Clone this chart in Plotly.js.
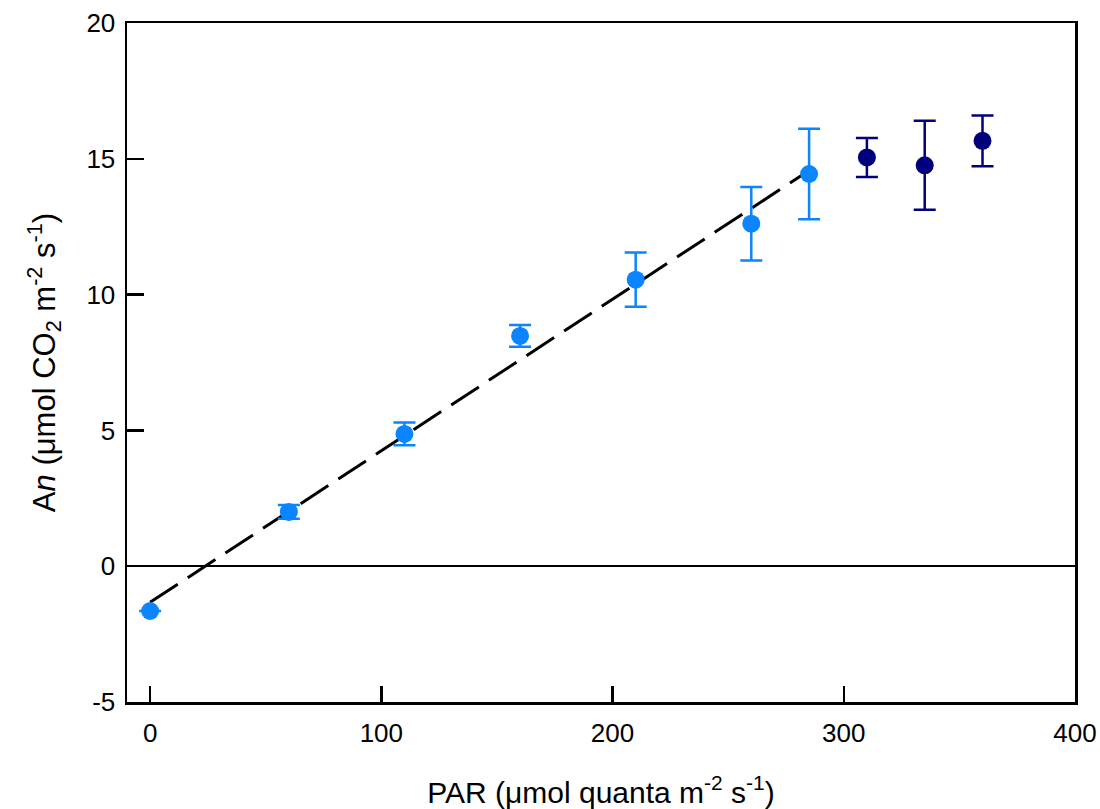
<!DOCTYPE html>
<html>
<head>
<meta charset="utf-8">
<script src="https://cdn.plot.ly/plotly-3.0.1.min.js"></script>
<style>html,body{margin:0;padding:0;background:#fff;}#chart{width:1100px;height:809px;}</style>
</head>
<body>
<div id="chart"></div>
<script>
// Linear-phase measurements (light blue)
const parLinear = [0, 60, 110, 160, 210, 260, 285];
const anLinear = [-1.65, 2.0, 4.87, 8.48, 10.55, 12.61, 14.44];
const errLinear = [0, 0.25, 0.42, 0.4, 1.0, 1.35, 1.67];

// Saturation-phase measurements (dark blue)
const parSat = [310, 335, 360];
const anSat = [15.05, 14.76, 15.66];
const errSat = [0.72, 1.64, 0.93];

// Linear regression fit line (endpoints)
const fitPar = [0, 285];
const fitAn = [-1.33, 14.57];

const xTicks = [0, 100, 200, 300, 400];
const yTicks = [-5, 0, 5, 10, 15, 20];
const yTickText = ["-5", "0", "5", "10", "15", "20"];

const FONT = "Liberation Sans, Arial, sans-serif";

const traces = [
  {
    x: fitPar, y: fitAn, type: "scatter", mode: "lines",
    line: {color: "#000000", width: 3, dash: "33px,12px"},
    hoverinfo: "skip", showlegend: false
  },
  {
    x: parLinear, y: anLinear, type: "scatter", mode: "markers",
    marker: {color: "#0A84FF", size: 18},
    error_y: {type: "data", array: errLinear, visible: true, color: "#0A84FF", thickness: 2.5, width: 11},
    showlegend: false
  },
  {
    x: parSat, y: anSat, type: "scatter", mode: "markers",
    marker: {color: "#00007F", size: 18},
    error_y: {type: "data", array: errSat, visible: true, color: "#00007F", thickness: 2.5, width: 11},
    showlegend: false
  }
];

const layout = {
  width: 1100, height: 809,
  margin: {l: 127, r: 25, t: 23, b: 107},
  paper_bgcolor: "#ffffff", plot_bgcolor: "#ffffff",
  font: {family: FONT, color: "#000000", size: 26},
  showlegend: false,
  xaxis: {
    range: [-10, 400],
    tickvals: xTicks,
    ticks: "inside", ticklen: 16, tickwidth: 2.5, tickcolor: "#000",
    showline: true, linewidth: 2.5, linecolor: "#000", mirror: true,
    showgrid: false, zeroline: false,
    tickfont: {family: FONT, size: 26},
    ticklabelstandoff: 6,
    title: {text: "PAR (μmol quanta m<sup>-2</sup> s<sup>-1</sup>)", font: {family: FONT, size: 30}, standoff: 36}
  },
  yaxis: {
    range: [-5, 20],
    tickvals: yTicks, ticktext: yTickText,
    ticks: "inside", ticklen: 17, tickwidth: 2.5, tickcolor: "#000",
    showline: true, linewidth: 2.5, linecolor: "#000", mirror: true,
    showgrid: false, zeroline: true, zerolinecolor: "#000", zerolinewidth: 2,
    tickfont: {family: FONT, size: 26},
    ticklabelstandoff: 4,
    title: {text: "A<i>n</i> (μmol CO<sub>2</sub> m<sup>-2</sup> s<sup>-1</sup>)", font: {family: FONT, size: 31}, standoff: 22}
  }
};

Plotly.newPlot("chart", traces, layout, {displayModeBar: false, staticPlot: true});
</script>
</body>
</html>
